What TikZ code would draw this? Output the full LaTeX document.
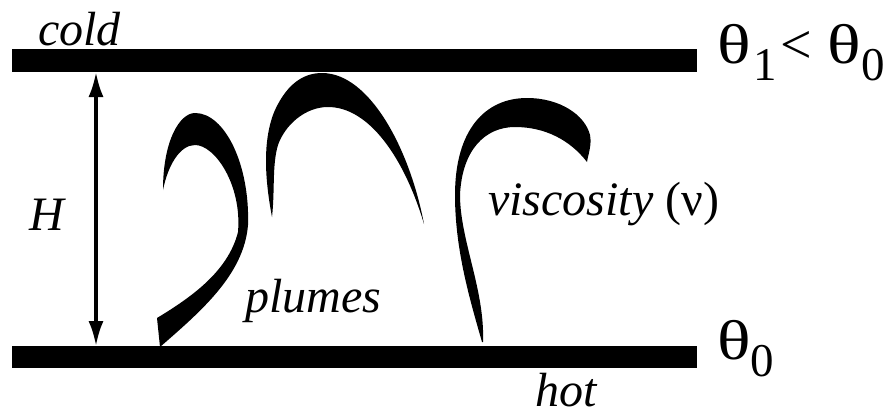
\documentclass[tikz,border=0pt]{standalone}
\usepackage{fontspec}
\usepackage{graphicx}
\setmainfont{Liberation Serif}
\usetikzlibrary{arrows.meta}
\newcommand{\lowidx}[1]{\raisebox{-17pt}{\fontsize{47}{50}\selectfont #1}}
\newcommand{\wtheta}{\scalebox{1.25}[1]{θ}}

\begin{document}
\begin{tikzpicture}[x=1pt,y=-1pt,
  plate/.style={fill=black},
  plume/.style={fill=black},
  lbl/.style={font=\fontsize{48}{52}\selectfont\itshape,inner sep=0pt},
  temp/.style={font=\fontsize{56}{60}\selectfont,inner sep=0pt}]
  \useasboundingbox (0,0) rectangle (891,416);
  % the two plates
  \fill[plate] (12,49) rectangle (697,72);
  \fill[plate] (12,346) rectangle (697,368);
  % gap between the plates
  \coordinate (Htop) at (96,72);
  \coordinate (Hbot) at (96,346);
  \draw[{Latex[length=25pt,width=15pt]}-{Latex[length=25pt,width=15pt]},line width=3.2pt] (Htop) -- (Hbot);
  % first plume, rooted on the hot plate
  \fill[plume] (163,190) .. controls (163,140) and (180,113) .. (195,113)
    .. controls (225,113) and (250,165) .. (248,225)
    .. controls (244,275) and (200,312) .. (160,347) -- (157,318)
    .. controls (190,298) and (228,272) .. (238,232)
    .. controls (242,185) and (215,145) .. (195,145)
    .. controls (180,145) and (168,165) .. (163,190) -- cycle;
  % second plume
  \fill[plume] (272,217) .. controls (265,180) and (262,140) .. (275,110)
    .. controls (288,82) and (305,73) .. (322,73)
    .. controls (370,73) and (410,150) .. (424,224)
    .. controls (405,160) and (370,107) .. (328,107)
    .. controls (305,107) and (285,125) .. (278,145)
    .. controls (272,165) and (275,190) .. (272,217) -- cycle;
  % third plume with its long stem
  \fill[plume] (482,342) .. controls (470,300) and (455,250) .. (455,195)
    .. controls (455,130) and (485,98) .. (527,98)
    .. controls (560,98) and (585,115) .. (590,135)
    .. controls (592,145) and (588,155) .. (587,162)
    .. controls (570,140) and (545,127) .. (515,127)
    .. controls (485,127) and (462,150) .. (460,195)
    .. controls (460,240) and (485,290) .. (483,342) -- cycle;
  % labels
  \node[lbl,anchor=base west] (cold) at (38,45) {cold};
  \node[lbl,anchor=base west] (hot) at (535,406) {hot};
  \node[lbl,anchor=base] (H) at (47,230) {H};
  \node[lbl,anchor=base west] (plumes) at (245,312) {plumes};
  \node[lbl,anchor=base west] (visc) at (488,215) {viscosity \upshape(ν)};
  \node[temp,anchor=base west] (T1) at (717,63) {\wtheta\kern3pt\lowidx{1}\kern3pt<\kern16pt\wtheta\lowidx{0}};
  \node[temp,anchor=base west] (T0) at (717,359) {\wtheta\lowidx{0}};
\end{tikzpicture}
\end{document}
